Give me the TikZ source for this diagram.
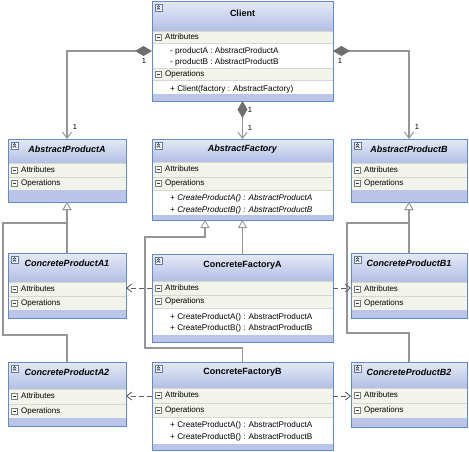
\documentclass[tikz,border=0pt]{standalone}
\usepackage{fontspec}
\setmainfont{Liberation Sans}
\usetikzlibrary{arrows.meta}
\definecolor{bordercol}{RGB}{98,139,205}
\definecolor{hdtop}{RGB}{230,234,248}
\definecolor{hdbot}{RGB}{178,190,228}
\definecolor{compcol}{RGB}{243,244,235}
\definecolor{sepcol}{RGB}{214,216,206}
\definecolor{stripecol}{RGB}{186,197,232}
\definecolor{linecol}{RGB}{150,150,150}
\definecolor{diacol}{RGB}{110,110,110}
\definecolor{depcol}{RGB}{95,95,95}
\definecolor{iconcol}{RGB}{125,125,125}
\definecolor{iconblue}{RGB}{90,120,180}
\tikzset{
  classbody/.style={rectangle, fill=white, inner sep=0pt, outer sep=0pt, anchor=north west},
  titletext/.style={font=\fontsize{9}{10}\selectfont\bfseries, inner sep=0pt},
  comptext/.style={font=\fontsize{8}{9}\selectfont, anchor=west, inner sep=0pt, text height=6pt, text depth=2pt},
  membertext/.style={font=\fontsize{8.2}{9}\selectfont, anchor=west, inner sep=0pt, text height=6pt, text depth=2pt},
  multtext/.style={font=\fontsize{7.5}{8}\selectfont, inner sep=0pt},
  assoc/.style={draw=linecol, line width=1.1pt, {Diamond[length=17pt,width=10pt,color=diacol,fill=diacol]}-{Straight Barb[length=6pt,width=9pt,line width=1pt]}},
  inherit/.style={draw=linecol, line width=1.1pt, -{Triangle[length=8pt,width=9pt,fill=white,line width=0.8pt]}},
  dep/.style={draw=depcol, line width=0.9pt, dash pattern=on 5pt off 3pt, -{Straight Barb[length=5pt,width=8pt,line width=0.9pt]}},
}
% #1 name, #2 width, #3 header height, #4 title, #5 title y
\newcommand\umlheader[5]{%
  \shade[top color=hdtop,bottom color=hdbot] (0,0) rectangle (#2,#3);
  \draw[draw=iconblue, fill=white, line width=0.5pt] (3,3) rectangle (10,10);
  \draw[draw=black!80, line width=0.6pt] (4.8,6.3) -- (6.5,4.6) -- (8.2,6.3);
  \draw[draw=black!80, line width=0.6pt] (4.8,8.6) -- (6.5,6.9) -- (8.2,8.6);
  \node[titletext] (#1-title) at ({#2/2},#5) {#4};
}
% #1 name, #2 width, #3 y0, #4 y1, #5 label
\newcommand\umlcompart[5]{%
  \fill[compcol] (0,#3) rectangle (#2,#4);
  \draw[draw=sepcol, line width=0.5pt] (0,#3) -- (#2,#3);
  \draw[draw=sepcol, line width=0.5pt] (0,#4) -- (#2,#4);
  \draw[draw=iconcol, fill=white, line width=0.5pt] (3.5,{(#3+#4)/2-3}) rectangle (9.5,{(#3+#4)/2+3});
  \draw[draw=black!80, line width=0.6pt] (5,{(#3+#4)/2}) -- (8,{(#3+#4)/2});
  \node[comptext] (#1) at (13,{(#3+#4)/2}) {#5};
}
% #1 name, #2 y, #3 text
\newcommand\umlmember[3]{\node[membertext] (#1) at (18,#2) {#3};}
% #1 width, #2 y0, #3 y1
\newcommand\umlstripe[3]{\fill[stripecol] (0,#2) rectangle (#1,#3);}
% #1 width, #2 height
\newcommand\umlborder[2]{\draw[draw=bordercol, line width=0.8pt] (0,0) rectangle (#1,#2);}

\begin{document}
\begin{tikzpicture}[x=1pt,y=-1pt]
\useasboundingbox (0,0) rectangle (469,451);

% ---------- Client
\node[classbody, minimum width=181pt, minimum height=100pt] (client) at (152,1) {};
\begin{scope}[shift={(client.north west)}]
  \umlheader{client}{181}{30}{Client}{12}
  \umlcompart{client-attr}{181}{30}{42}{Attributes}
  \umlmember{client-m1}{50}{- productA : AbstractProductA}
  \umlmember{client-m2}{61}{- productB : AbstractProductB}
  \umlcompart{client-ops}{181}{67}{79}{Operations}
  \umlmember{client-m3}{88}{+ Client(factory : AbstractFactory)}
  \umlstripe{181}{93}{100}
  \umlborder{181}{100}
\end{scope}

% ---------- AbstractProductA
\node[classbody, minimum width=118pt, minimum height=63pt] (absA) at (8,139) {};
\begin{scope}[shift={(absA.north west)}]
  \umlheader{absA}{118}{24}{\itshape AbstractProductA}{10}
  \umlcompart{absA-attr}{118}{24}{38}{Attributes}
  \umlcompart{absA-ops}{118}{38}{51}{Operations}
  \umlstripe{118}{51}{63}
  \umlborder{118}{63}
\end{scope}

% ---------- AbstractFactory
\node[classbody, minimum width=181pt, minimum height=81pt] (absF) at (152,139) {};
\begin{scope}[shift={(absF.north west)}]
  \umlheader{absF}{181}{23}{\itshape AbstractFactory}{10}
  \umlcompart{absF-attr}{181}{23}{38}{Attributes}
  \umlcompart{absF-ops}{181}{38}{51}{Operations}
  \umlmember{absF-m1}{59}{\itshape + CreateProductA() : AbstractProductA}
  \umlmember{absF-m2}{71}{\itshape + CreateProductB() : AbstractProductB}
  \umlstripe{181}{76}{81}
  \umlborder{181}{81}
\end{scope}

% ---------- AbstractProductB
\node[classbody, minimum width=116pt, minimum height=63pt] (absB) at (351,139) {};
\begin{scope}[shift={(absB.north west)}]
  \umlheader{absB}{116}{24}{\itshape AbstractProductB}{10}
  \umlcompart{absB-attr}{116}{24}{38}{Attributes}
  \umlcompart{absB-ops}{116}{38}{51}{Operations}
  \umlstripe{116}{51}{63}
  \umlborder{116}{63}
\end{scope}

% ---------- ConcreteProductA1
\node[classbody, minimum width=118pt, minimum height=65pt] (cpa1) at (8,253) {};
\begin{scope}[shift={(cpa1.north west)}]
  \umlheader{cpa1}{118}{29}{\itshape ConcreteProductA1}{10}
  \umlcompart{cpa1-attr}{118}{29}{43}{Attributes}
  \umlcompart{cpa1-ops}{118}{43}{57}{Operations}
  \umlstripe{118}{57}{65}
  \umlborder{118}{65}
\end{scope}

% ---------- ConcreteFactoryA
\node[classbody, minimum width=181pt, minimum height=88pt] (cfa) at (152,254) {};
\begin{scope}[shift={(cfa.north west)}]
  \umlheader{cfa}{181}{27}{ConcreteFactoryA}{11}
  \umlcompart{cfa-attr}{181}{27}{41}{Attributes}
  \umlcompart{cfa-ops}{181}{41}{54}{Operations}
  \umlmember{cfa-m1}{63}{+ CreateProductA() : AbstractProductA}
  \umlmember{cfa-m2}{74}{+ CreateProductB() : AbstractProductB}
  \umlstripe{181}{81}{88}
  \umlborder{181}{88}
\end{scope}

% ---------- ConcreteProductB1
\node[classbody, minimum width=116pt, minimum height=65pt] (cpb1) at (351,253) {};
\begin{scope}[shift={(cpb1.north west)}]
  \umlheader{cpb1}{116}{29}{\itshape ConcreteProductB1}{10}
  \umlcompart{cpb1-attr}{116}{29}{43}{Attributes}
  \umlcompart{cpb1-ops}{116}{43}{57}{Operations}
  \umlstripe{116}{57}{65}
  \umlborder{116}{65}
\end{scope}

% ---------- ConcreteProductA2
\node[classbody, minimum width=118pt, minimum height=64pt] (cpa2) at (8,362) {};
\begin{scope}[shift={(cpa2.north west)}]
  \umlheader{cpa2}{118}{27}{\itshape ConcreteProductA2}{10}
  \umlcompart{cpa2-attr}{118}{27}{42}{Attributes}
  \umlcompart{cpa2-ops}{118}{42}{56}{Operations}
  \umlstripe{118}{56}{64}
  \umlborder{118}{64}
\end{scope}

% ---------- ConcreteFactoryB
\node[classbody, minimum width=181pt, minimum height=88pt] (cfb) at (152,362) {};
\begin{scope}[shift={(cfb.north west)}]
  \umlheader{cfb}{181}{26}{ConcreteFactoryB}{10}
  \umlcompart{cfb-attr}{181}{26}{41}{Attributes}
  \umlcompart{cfb-ops}{181}{41}{55}{Operations}
  \umlmember{cfb-m1}{63}{+ CreateProductA() : AbstractProductA}
  \umlmember{cfb-m2}{75}{+ CreateProductB() : AbstractProductB}
  \umlstripe{181}{82}{88}
  \umlborder{181}{88}
\end{scope}

% ---------- ConcreteProductB2
\node[classbody, minimum width=116pt, minimum height=65pt] (cpb2) at (351,362) {};
\begin{scope}[shift={(cpb2.north west)}]
  \umlheader{cpb2}{116}{26}{\itshape ConcreteProductB2}{10}
  \umlcompart{cpb2-attr}{116}{26}{41}{Attributes}
  \umlcompart{cpb2-ops}{116}{41}{56}{Operations}
  \umlstripe{116}{56}{65}
  \umlborder{116}{65}
\end{scope}

% ---------- associations (composition)
\draw[assoc] (client.west) -| (absA.north);
\draw[assoc] (client.east) -| (absB.north);
\draw[assoc] (client.south) -- (absF.north);
\node[multtext] (mA1) at (144,61) {1};
\node[multtext] (mA2) at (75,127) {1};
\node[multtext] (mB1) at (340,61) {1};
\node[multtext] (mB2) at (417,127) {1};
\node[multtext] (mF1) at (250,110) {1};
\node[multtext] (mF2) at (250,128) {1};

% ---------- inheritance
\draw[inherit] (cpa1.north) -- (absA.south);
\draw[inherit] (cpa2.north) -- ++(0,-27) -| ++(-64,-112) -| (absA.south);
\draw[inherit] (cfa.north) -- (absF.south);
\draw[inherit] (cfb.north) -- ++(0,-14) -| ++(-97.5,-111) -| ([xshift=-37.5pt]absF.south);
\draw[inherit] (cpb1.north) -- (absB.south);
\draw[inherit] (cpb2.north) -- ++(0,-29) -| ++(-62,-110) -| (absB.south);

% ---------- dependencies
\coordinate (dAl) at ([yshift=10pt]cfa.west);
\coordinate (dAr) at ([yshift=10pt]cfa.east);
\coordinate (dBl) at ([yshift=10pt]cfb.west);
\coordinate (dBr) at ([yshift=10pt]cfb.east);
\draw[dep] (dAl) -- (dAl -| cpa1.east);
\draw[dep] (dAr) -- (dAr -| cpb1.west);
\draw[dep] (dBl) -- (dBl -| cpa2.east);
\draw[dep] (dBr) -- (dBr -| cpb2.west);
\end{tikzpicture}
\end{document}
